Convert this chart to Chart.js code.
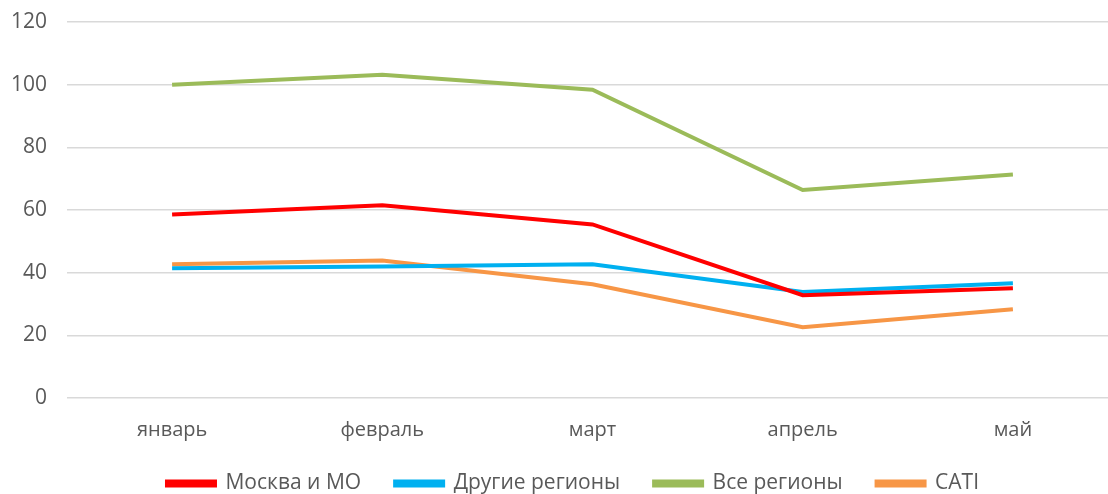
<!DOCTYPE html>
<html>
<head>
<meta charset="utf-8">
<script src="https://cdn.jsdelivr.net/npm/chart.js@4/dist/chart.umd.min.js"></script>
<style>
  html, body { margin: 0; padding: 0; background: #fff; overflow: hidden; }
  .wrap { width: 1118px; height: 494px; }
</style>
</head>
<body>
<div class="wrap"><canvas id="chart"></canvas></div>
<script>
const months = ['январь', 'февраль', 'март', 'апрель', 'май'];
const moscow = [58.6, 61.5, 55.4, 32.8, 35.0];
const otherRegions = [41.4, 42.0, 42.7, 33.8, 36.6];
const allRegions = [100.0, 103.2, 98.4, 66.4, 71.3];
const cati = [42.7, 43.9, 36.3, 22.6, 28.3];
const yTicks = [0, 20, 40, 60, 80, 100, 120];

const FONT = "'Open Sans', sans-serif";
const GREY = '#595959';

const line = (label, data, color) => ({
  label, data,
  borderColor: color,
  backgroundColor: color,
  borderWidth: 4,
  pointRadius: 0,
  tension: 0,
  fill: false
});

// legend takes little layout room, then its top is pulled up a bit
const legendPlace = {
  id: 'legendPlace',
  beforeInit(chart) {
    const fit = chart.legend.fit;
    chart.legend.fit = function () {
      fit.call(this);
      this.height = 52;
    };
  },
  afterLayout(chart) {
    const lg = chart.legend;
    lg.left += 14;
    lg.right += 14;
    lg.top -= 3;
  }
};

new Chart(document.getElementById('chart'), {
  type: 'line',
  data: {
    labels: months,
    datasets: [
      line('Москва и МО', moscow, '#FF0000'),
      line('Другие регионы', otherRegions, '#00B0F0'),
      line('Все регионы', allRegions, '#9BBB59'),
      line('CATI', cati, '#F79646')
    ]
  },
  plugins: [legendPlace],
  options: {
    responsive: true,
    maintainAspectRatio: false,
    animation: false,
    layout: { padding: { top: 22, right: 0, bottom: 0, left: 0 } },
    plugins: {
      tooltip: { enabled: false },
      legend: {
        position: 'bottom',
        labels: {
          font: { family: FONT, size: 21 },
          color: GREY,
          boxWidth: 48,
          boxHeight: 4,
          padding: 34
        }
      }
    },
    scales: {
      x: {
        offset: true,
        grid: { display: false, drawTicks: false },
        border: { display: false },
        afterFit: s => { s.height = 44; },
        ticks: { font: { family: FONT, size: 20 }, color: GREY, padding: 20, maxRotation: 0 }
      },
      y: {
        min: 0,
        max: 120,
        afterBuildTicks: s => { s.ticks = yTicks.map(v => ({ value: v })); },
        afterFit: s => { s.width = 67; s.paddingTop = 0; s.paddingBottom = 0; },
        grid: { color: '#D9D9D9', lineWidth: 1.5, drawTicks: false },
        border: { display: false },
        ticks: { font: { family: FONT, size: 21 }, color: GREY, padding: 20 }
      }
    }
  }
});
</script>
</body>
</html>
